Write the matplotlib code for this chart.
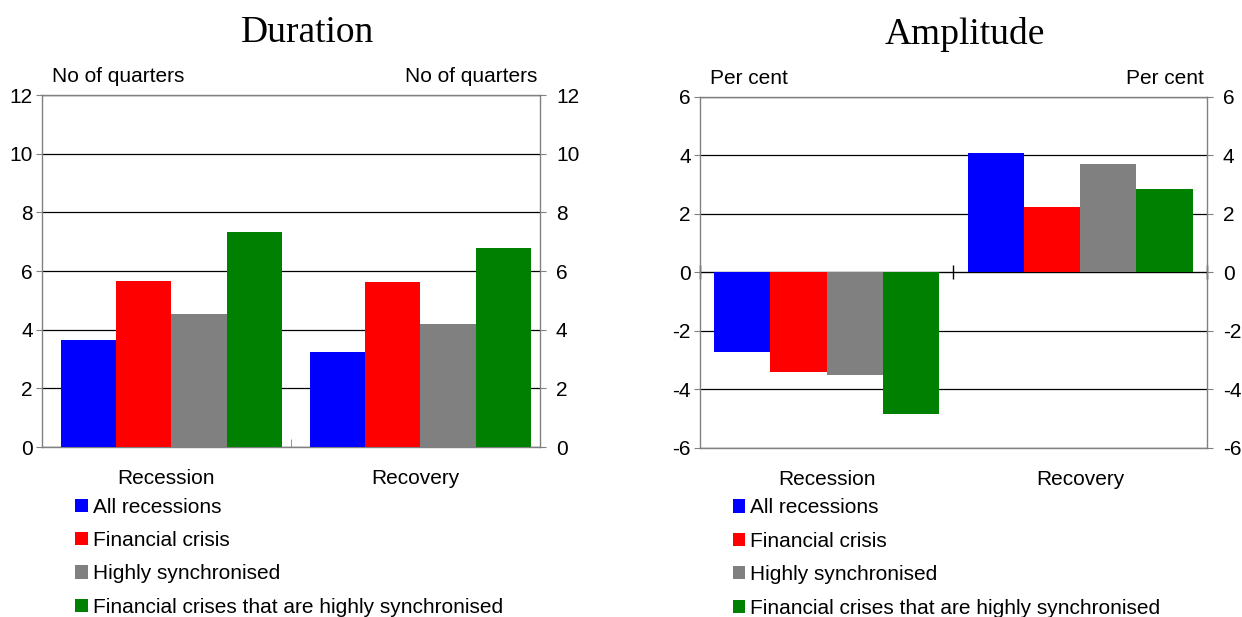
import numpy as np
import matplotlib
matplotlib.use('Agg')
import matplotlib.pyplot as plt

plt.rcParams['font.family'] = ['Liberation Sans', 'DejaVu Sans']

# Data
categories = ['Recession', 'Recovery']
series = ['All recessions', 'Financial crisis', 'Highly synchronised',
          'Financial crises that are highly synchronised']
colors = ['#0000ff', '#ff0000', '#808080', '#008000']

duration = [[3.65, 3.24],   # all recessions
            [5.67, 5.63],   # financial crisis
            [4.55, 4.20],   # highly synchronised
            [7.34, 6.78]]   # financial + synchronised

amplitude = [[-2.73, 4.07],
             [-3.42, 2.22],
             [-3.49, 3.69],
             [-4.85, 2.84]]

fig = plt.figure(figsize=(12.42, 6.17), dpi=100)
ax1 = fig.add_axes([0.0338, 0.2755, 0.401, 0.5705])
ax2 = fig.add_axes([0.5636, 0.274, 0.408, 0.569])

x = np.arange(len(categories))
width = 0.222
grey = '#808080'
fs = 15


def draw(ax, data, ylim, step, title, unit, shift=0.0, tx=0.5, lx=0.06):
    for i, (vals, c) in enumerate(zip(data, colors)):
        ax.bar(x + shift + (i - 1.5) * width, vals, width, color=c,
               label=series[i], zorder=3)
    ax.set_xlim(-0.5, 1.5)
    ax.set_ylim(*ylim)
    ticks = np.arange(ylim[0], ylim[1] + 0.1, step)
    ax.set_yticks(ticks)
    ax.set_yticklabels([f'{t:g}' for t in ticks])
    for t in ticks:
        ax.axhline(t, color='black', lw=0.9, zorder=1)
    for s in ax.spines.values():
        s.set_color(grey)
        s.set_linewidth(1)
    ax.set_xticks(x)
    ax.set_xticklabels(categories, fontsize=fs)
    ax.tick_params(axis='x', length=0, pad=16)
    ax.tick_params(axis='y', labelsize=fs, length=4, direction='out',
                   color=grey, pad=2.5)
    tw = ax.twinx()
    tw.set_ylim(*ylim)
    tw.set_yticks(ticks)
    tw.set_yticklabels([f'{t:g}' for t in ticks])
    tw.tick_params(axis='y', labelsize=fs, length=4, direction='out',
                   color=grey, pad=7.5)
    for s in tw.spines.values():
        s.set_visible(False)
    ax.set_title(title, fontsize=27, family='Liberation Serif', pad=38, x=tx)
    ax.text(0.02, 1.025, unit, transform=ax.transAxes, fontsize=fs,
            ha='left', va='bottom')
    ax.text(0.995, 1.025, unit, transform=ax.transAxes, fontsize=fs,
            ha='right', va='bottom')
    ax.legend(loc='upper left', bbox_to_anchor=(lx, -0.12), frameon=False,
              fontsize=fs, handlelength=0.6, handleheight=0.6,
              handletextpad=0.25, labelspacing=0.69, borderaxespad=0)


draw(ax1, duration, (0, 12), 2, 'Duration', 'No of quarters', shift=0.02,
     tx=0.534, lx=0.05)
ax1.set_xticks([0.5], minor=True)
ax1.tick_params(axis='x', which='minor', direction='in', length=6,
                color=grey)

draw(ax2, amplitude, (-6, 6), 2, 'Amplitude', 'Per cent', tx=0.522, lx=0.048)
sec = ax2.secondary_xaxis(0.5)
sec.set_xticks([-0.5, 0.5, 1.5])
sec.set_xticklabels([])
sec.tick_params(direction='inout', length=10, width=1, color='black')
sec.spines['bottom'].set_color('black')
sec.spines['bottom'].set_linewidth(1.2)

plt.savefig('out.png', dpi=100)
